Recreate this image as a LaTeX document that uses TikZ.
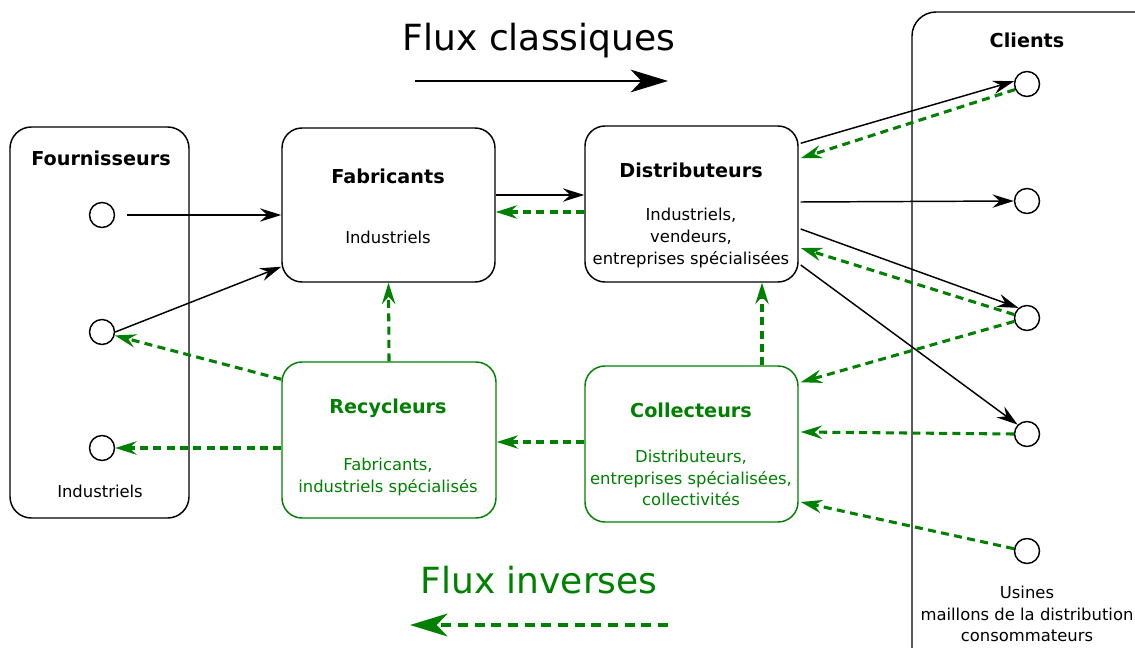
\documentclass[tikz,border=0pt]{standalone}
\usepackage{fontspec}
\setmainfont{DejaVu Sans}
\usetikzlibrary{arrows.meta,calc}
\newdimen\pxu \pxu=0.75pt
\definecolor{vert}{HTML}{008000}
\tikzset{
  box/.style={draw, rounded corners=15pt, line width=1.1pt, minimum width=213\pxu, minimum height=155\pxu, inner sep=0pt},
  gbox/.style={box, draw=vert},
  dot/.style={draw, circle, line width=1.1pt, minimum size=25\pxu, inner sep=0pt, fill=white},
  ttl/.style={font=\fontsize{14.4}{17}\selectfont\bfseries},
  txt/.style={font=\fontsize{12.3}{16.3}\selectfont, align=center},
  fwd/.style={draw, line width=1.1pt, -{Stealth[length=16pt,width=10pt,inset=5.5pt]}},
  bwd/.style={draw=vert, color=vert, line width=2.3pt, dash pattern=on 6pt off 4pt, -{Stealth[length=16pt,width=10pt,inset=5.5pt]}},
}
\begin{document}
\begin{tikzpicture}[x=0.75pt,y=-0.75pt]
\clip (0,0) rectangle (1135,648);
\fill[white] (0,0) rectangle (1135,648);

% containers
\node[box, rounded corners=16pt, minimum width=179\pxu, minimum height=391\pxu] (fourn) at (99.5,322.5) {};
\draw[line width=1.1pt, rounded corners=18pt] (912,12) rectangle (1175,700);

% boxes
\node[box, minimum height=154\pxu] (fab) at (388.5,205) {};
\node[box, minimum height=156\pxu] (dist) at (691.5,204) {};
\node[gbox, minimum width=214\pxu, minimum height=156\pxu] (rec) at (389,440) {};
\node[gbox, minimum height=156\pxu] (col) at (691.5,444) {};

% texts
\node[ttl] (tfourn) at (101,158) {Fournisseurs};
\node[txt] (ifourn) at (100,491) {Industriels};
\node[ttl] (tfab) at (388,176) {Fabricants};
\node[txt] (ifab) at (388,237) {Industriels};
\node[ttl] (tdist) at (691,170) {Distributeurs};
\node[txt] (idist) at (691,238) {Industriels,\\vendeurs,\\entreprises spécialisées};
\node[ttl, text=vert] (trec) at (388,408) {Recycleurs};
\node[txt, text=vert] (irec) at (388,477) {Fabricants,\\industriels spécialisés};
\node[ttl, text=vert] (tcol) at (691,410) {Collecteurs};
\node[txt, text=vert] (icol) at (691,478) {Distributeurs,\\entreprises spécialisées,\\collectivités};
\node[ttl] (tcli) at (1027,40) {Clients};
\node[txt] (icli) at (1027,614) {Usines\\maillons de la distribution\\consommateurs};

% circles
\node[dot] (f1) at (102,215) {};
\node[dot] (f2) at (102,332) {};
\node[dot] (f3) at (102,448) {};
\node[dot] (c1) at (1027,84) {};
\node[dot] (c2) at (1027,201) {};
\node[dot] (c3) at (1027,318) {};
\node[dot] (c4) at (1027,434) {};
\node[dot] (c5) at (1027,551) {};

% forward flows
\draw[fwd, shorten <=9pt] (f1.east) -- (fab.west |- f1);
\draw[fwd] (f2.east) -- ($(fab.south west)+(0,-16)$);
\draw[fwd] ($(fab.east)+(0,-10)$) -- ($(dist.west)+(0,-9)$);
\draw[fwd] ($(dist.north east)+(2,18)$) -- (c1.168);
\draw[fwd] ($(dist.east)+(2,-2)$) -- (c2.west);
\draw[fwd] ($(dist.east)+(2,25)$) -- (c3.130);
\draw[fwd] ($(dist.east)+(2,61)$) -- (c4.135);

% reverse flows
\draw[bwd] ($(rec.north west)+(0,18)$) -- (f2.-15);
\draw[bwd] (rec.west |- f3) -- (f3.east);
\draw[bwd] ($(dist.west)+(0,8)$) -- ($(fab.east)+(0,7)$);
\draw[bwd] (rec.north) -- (fab.south);
\draw[bwd] ($(col.west)+(0,-2)$) -- ($(rec.east)+(0,2)$);
\draw[bwd] ($(col.north)+(70.5,0)$) -- ($(dist.south)+(70.5,0)$);
\draw[bwd] (c1.205) -- ($(dist.north east)+(2,33)$);
\draw[bwd] (c3.165) -- ($(dist.east)+(2,44)$);
\draw[bwd] (c3.195) -- ($(col.north east)+(2,17)$);
\draw[bwd] (c4.west) -- ($(col.east)+(2,-12)$);
\draw[bwd] (c5.170) -- ($(col.east)+(2,58)$);

% legend
\node[font=\fontsize{27}{32}\selectfont] (lcl) at (539,41) {Flux classiques};
\coordinate (la1) at (415,81);
\coordinate (la2) at (668,81);
\draw[line width=1.6pt, -{Stealth[length=28pt,width=17pt,inset=8pt]}] (la1) -- (la2);
\node[font=\fontsize{27}{32}\selectfont, text=vert] (lin) at (539,580) {Flux inverses};
\coordinate (lb1) at (668,625);
\coordinate (lb2) at (410,625);
\draw[draw=vert, color=vert, line width=3.4pt, dash pattern=on 7.5pt off 5pt, -{Stealth[length=28pt,width=17pt,inset=8pt]}] (lb1) -- (lb2);
\end{tikzpicture}
\end{document}
